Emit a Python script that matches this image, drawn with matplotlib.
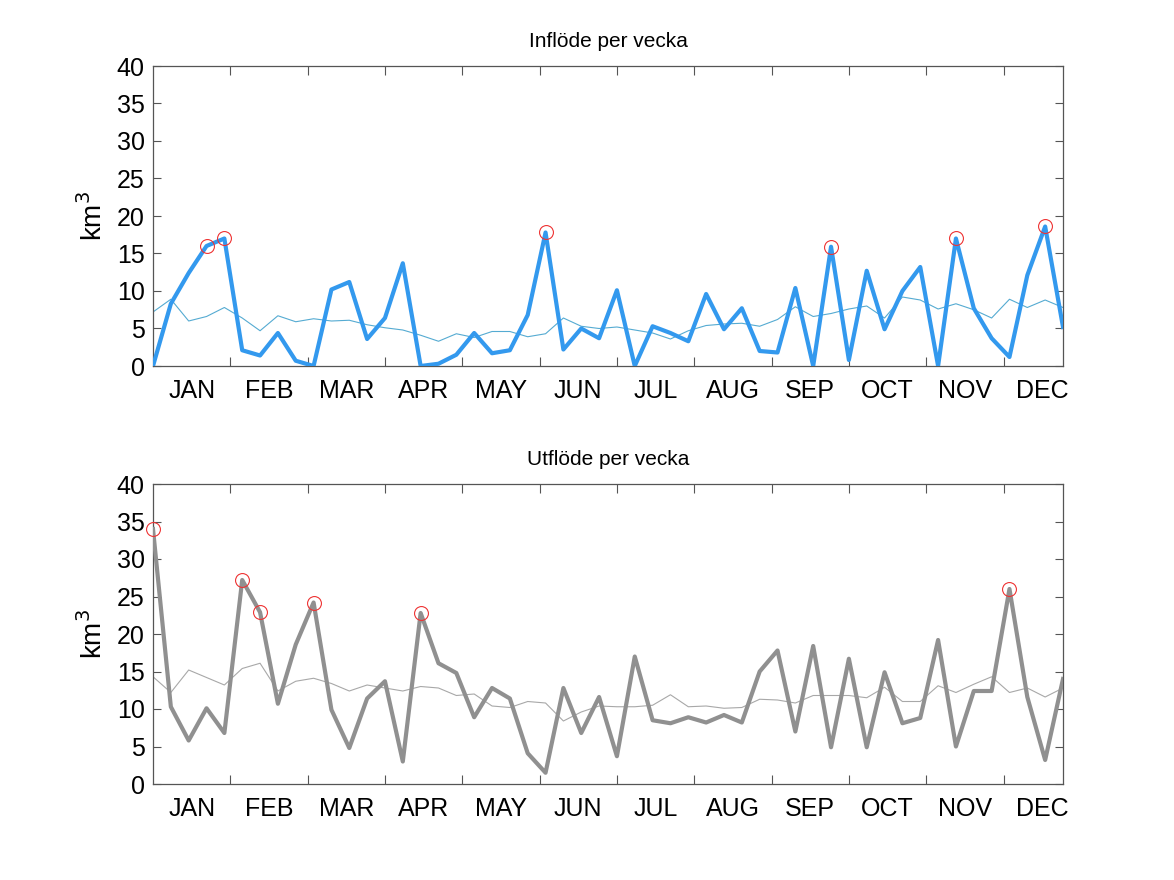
import matplotlib
matplotlib.use("Agg")
import matplotlib.pyplot as plt
import numpy as np

plt.rcParams['font.family'] = ['Liberation Sans', 'DejaVu Sans']

weeks = list(range(1, 53))
months = ["JAN", "FEB", "MAR", "APR", "MAY", "JUN", "JUL", "AUG", "SEP", "OCT", "NOV", "DEC"]

inflow = [0.0, 8.3, 12.4, 16.0, 17.0, 2.1, 1.4, 4.4, 0.7, 0.0,
          10.2, 11.2, 3.6, 6.4, 13.7, 0.0, 0.3, 1.5, 4.4, 1.7,
          2.1, 6.8, 17.8, 2.2, 5.0, 3.7, 10.1, 0.0, 5.3, 4.4,
          3.3, 9.6, 4.9, 7.7, 2.0, 1.8, 10.4, 0.0, 15.9, 0.8,
          12.7, 4.9, 10.0, 13.2, 0.0, 17.0, 7.7, 3.7, 1.2, 12.1,
          18.6, 5.2]
inflow_avg = [7.2, 8.9, 6.0, 6.6, 7.8, 6.4, 4.7, 6.7, 5.9, 6.3,
              6.0, 6.1, 5.5, 5.1, 4.8, 4.1, 3.3, 4.3, 3.8, 4.6,
              4.6, 3.9, 4.3, 6.4, 5.3, 5.0, 5.2, 4.8, 4.4, 3.6,
              4.7, 5.4, 5.6, 5.7, 5.3, 6.2, 7.9, 6.6, 7.0, 7.6,
              8.0, 6.4, 9.2, 8.8, 7.6, 8.3, 7.5, 6.4, 8.9, 7.8,
              8.8, 7.8]
inflow_peaks = [4, 5, 23, 39, 46, 51]

outflow = [34.0, 10.3, 5.8, 10.1, 6.8, 27.2, 22.9, 10.7, 18.6, 24.2,
           9.9, 4.8, 11.4, 13.7, 3.0, 22.8, 16.1, 14.8, 8.9, 12.8,
           11.4, 4.1, 1.5, 12.8, 6.8, 11.6, 3.7, 17.0, 8.5, 8.1,
           8.9, 8.2, 9.2, 8.2, 15.0, 17.8, 7.0, 18.4, 4.9, 16.7,
           4.9, 14.9, 8.1, 8.8, 19.2, 5.0, 12.4, 12.4, 26.0, 11.6,
           3.2, 14.0]
outflow_avg = [14.3, 12.2, 15.2, 14.2, 13.2, 15.4, 16.1, 12.4, 13.7, 14.1,
               13.4, 12.4, 13.2, 12.8, 12.4, 13.0, 12.8, 11.8, 12.0, 10.4,
               10.2, 11.0, 10.8, 8.4, 9.6, 10.4, 10.3, 10.3, 10.5, 11.9,
               10.3, 10.4, 10.1, 10.2, 11.3, 11.2, 10.8, 11.8, 11.8, 11.8,
               11.5, 12.9, 11.0, 11.0, 13.1, 12.2, 13.3, 14.3, 12.2, 12.8,
               11.6, 12.8]
outflow_peaks = [1, 6, 7, 10, 16, 49]

W, H = 1174, 880
fig = plt.figure(figsize=(W / 100, H / 100), dpi=100)
fig.patch.set_facecolor('white')

def axrect(left, top, right, bottom):
    return [left / W, 1 - bottom / H, (right - left) / W, (bottom - top) / H]

def setup(ax, title):
    n = len(weeks)
    mlen = n / 12.0
    ax.set_xlim(1, n)
    ax.set_ylim(0, 40)
    ax.set_yticks(range(0, 41, 5))
    ax.set_xticks([1 + k * mlen for k in range(1, 12)])
    ax.set_xticks([1 + (k + 0.5) * mlen for k in range(12)], minor=True)
    ax.set_xticklabels([])
    ax.set_xticklabels(months, minor=True)
    ax.tick_params(axis='x', which='major', direction='in', length=6.5,
                   width=0.8, color='#555555', top=True, bottom=True)
    ax.tick_params(axis='x', which='minor', length=0, pad=9, labelsize=18)
    ax.tick_params(axis='y', direction='in', length=6, width=0.8,
                   color='#555555', left=True, right=True, labelsize=18, pad=6)
    for s in ax.spines.values():
        s.set_color('#555555')
        s.set_linewidth(0.9)
    ax.set_ylabel('km$^3$', fontsize=20, labelpad=6)
    ax.set_title(title, fontsize=15, pad=14)

ax1 = fig.add_axes(axrect(153, 66, 1063, 366))
ax1.plot(weeks, inflow_avg, color='#55abd2', lw=0.8, zorder=2)
ax1.plot(weeks, inflow, color='#3399ee', lw=3.0, zorder=3)
ax1.plot([weeks[i - 1] for i in inflow_peaks], [inflow[i - 1] for i in inflow_peaks],
         'o', ms=10, mfc='none', mec='#ee3333', mew=0.8, zorder=4, clip_on=False)
setup(ax1, 'Inflöde per vecka')

ax2 = fig.add_axes(axrect(153, 484, 1063, 784))
ax2.plot(weeks, outflow_avg, color='#a8a8a8', lw=0.8, zorder=2)
ax2.plot(weeks, outflow, color='#909090', lw=3.0, zorder=3)
ax2.plot([weeks[i - 1] for i in outflow_peaks], [outflow[i - 1] for i in outflow_peaks],
         'o', ms=10, mfc='none', mec='#ee3333', mew=0.8, zorder=4, clip_on=False)
setup(ax2, 'Utflöde per vecka')

fig.savefig('out.png', dpi=100, facecolor='white')
